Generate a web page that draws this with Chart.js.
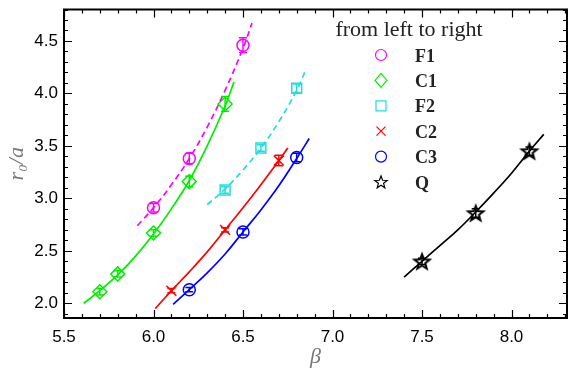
<!DOCTYPE html>
<html><head><meta charset="utf-8">
<script src="https://cdn.jsdelivr.net/npm/chart.js@4/dist/chart.umd.min.js"></script>
<style>html,body{margin:0;padding:0;background:#fff}</style>
</head><body>
<canvas id="c" width="581" height="370"></canvas>
<script>
// ---- data ----
const seriesNames = ['F1', 'C1', 'F2', 'C2', 'C3', 'Q'];
const legendTitle = 'from left to right';

const betaF1 = [6.0, 6.2, 6.5];
const r0F1   = [2.91, 3.38, 4.46];
const errF1  = [0.04, 0.05, 0.07];
const betaC1 = [5.7, 5.8, 6.0, 6.2, 6.4];
const r0C1   = [2.11, 2.28, 2.67, 3.16, 3.90];
const errC1  = [0.03, 0.03, 0.03, 0.05, 0.07];
const betaF2 = [6.4, 6.6, 6.8];
const r0F2   = [3.08, 3.48, 4.05];
const errF2  = [0.03, 0.03, 0.04];
const betaC2 = [6.1, 6.4, 6.7];
const r0C2   = [2.12, 2.70, 3.36];
const errC2  = [0.02, 0.02, 0.05];
const betaC3 = [6.2, 6.5, 6.8];
const r0C3   = [2.13, 2.68, 3.39];
const errC3  = [0.02, 0.03, 0.04];
const betaQ  = [7.5, 7.8, 8.1];
const r0Q    = [2.40, 2.86, 3.45];
const errQ   = [0.03, 0.04, 0.04];

// fit curves
const fitBetaF1 = [5.91, 6.0, 6.1, 6.2, 6.3, 6.4, 6.5, 6.55];
const fitR0F1   = [2.74, 2.91, 3.13, 3.38, 3.68, 4.03, 4.43, 4.67];
const fitBetaC1 = [5.61, 5.7, 5.8, 5.9, 6.0, 6.1, 6.2, 6.3, 6.4, 6.45];
const fitR0C1   = [2.00, 2.12, 2.27, 2.45, 2.66, 2.90, 3.17, 3.50, 3.88, 4.11];
const fitBetaF2 = [6.30, 6.4, 6.5, 6.6, 6.7, 6.8, 6.85];
const fitR0F2   = [2.94, 3.09, 3.27, 3.48, 3.73, 4.03, 4.22];
const fitBetaC2 = [6.01, 6.1, 6.2, 6.3, 6.4, 6.5, 6.6, 6.7, 6.75];
const fitR0C2   = [1.95, 2.12, 2.30, 2.49, 2.70, 2.91, 3.13, 3.36, 3.48];
const fitBetaC3 = [6.11, 6.2, 6.3, 6.4, 6.5, 6.6, 6.7, 6.8, 6.87];
const fitR0C3   = [1.99, 2.13, 2.29, 2.47, 2.68, 2.89, 3.12, 3.38, 3.57];
const fitBetaQ  = [7.40, 7.5, 7.6, 7.7, 7.8, 7.9, 8.0, 8.1, 8.18];
const fitR0Q    = [2.25, 2.40, 2.55, 2.70, 2.87, 3.05, 3.24, 3.45, 3.61];

const xTicks = [5.5, 6.0, 6.5, 7.0, 7.5, 8.0];
const yTicks = [2.0, 2.5, 3.0, 3.5, 4.0, 4.5];

// ---- styles ----
const colF1 = '#ff00ff', colC1 = '#00ee00', colF2 = '#22dddd', colC2 = '#ff0000', colC3 = '#0000ff', colQ = '#000000';

function starCanvas(rOut, lw) {
  const s = Math.ceil(rOut * 2 + lw * 2 + 2);
  const cv = document.createElement('canvas');
  cv.width = s; cv.height = s;
  const c = cv.getContext('2d');
  drawStar(c, s / 2, s / 2 + rOut * 0.1, rOut, lw);
  return cv;
}
function drawStar(c, cx, cy, rOut, lw) {
  const rIn = rOut * 0.42;
  c.beginPath();
  for (let i = 0; i < 10; i++) {
    const r = i % 2 ? rIn : rOut;
    const a = -Math.PI / 2 + i * Math.PI / 5;
    const px = cx + r * Math.cos(a), py = cy + r * Math.sin(a);
    if (i === 0) c.moveTo(px, py); else c.lineTo(px, py);
  }
  c.closePath();
  c.strokeStyle = '#000'; c.lineWidth = lw; c.stroke();
}
const starImg = starCanvas(8, 2);

const pts = (xs, ys) => xs.map((x, i) => ({x: x, y: ys[i]}));

function fitDs(xs, ys, col, dashed) {
  return {data: pts(xs, ys), showLine: true, borderColor: col, borderWidth: 1.7,
    borderDash: dashed ? [6, 4] : [], pointRadius: 0, tension: 0.4, fill: false};
}
function markDs(name, xs, ys, err, col, style, radius) {
  return {label: name, data: pts(xs, ys), err: err, showLine: false, borderColor: col,
    backgroundColor: 'rgba(0,0,0,0)', pointStyle: style, pointRadius: radius, pointBorderWidth: 1.5,
    pointHoverRadius: radius};
}

const datasets = [
  fitDs(fitBetaF1, fitR0F1, colF1, true),
  fitDs(fitBetaC1, fitR0C1, colC1, false),
  fitDs(fitBetaF2, fitR0F2, colF2, true),
  fitDs(fitBetaC2, fitR0C2, colC2, false),
  fitDs(fitBetaC3, fitR0C3, colC3, false),
  fitDs(fitBetaQ, fitR0Q, colQ, false),
  markDs(seriesNames[0], betaF1, r0F1, errF1, colF1, 'circle', 6),
  markDs(seriesNames[1], betaC1, r0C1, errC1, colC1, 'rectRot', 7),
  markDs(seriesNames[2], betaF2, r0F2, errF2, colF2, 'rect', 7),
  markDs(seriesNames[3], betaC2, r0C2, errC2, colC2, 'crossRot', 7),
  markDs(seriesNames[4], betaC3, r0C3, errC3, colC3, 'circle', 6),
  markDs(seriesNames[5], betaQ, r0Q, errQ, colQ, starImg, 8)
];

const legendItems = [
  {name: seriesNames[0], col: colF1, kind: 'circle'},
  {name: seriesNames[1], col: colC1, kind: 'diamond'},
  {name: seriesNames[2], col: colF2, kind: 'square'},
  {name: seriesNames[3], col: colC2, kind: 'x'},
  {name: seriesNames[4], col: colC3, kind: 'circle'},
  {name: seriesNames[5], col: colQ, kind: 'star'}
];

const framePlugin = {
  id: 'frame',
  afterDatasetsDraw(chart) {
    const ctx = chart.ctx, xs = chart.scales.x, ys = chart.scales.y;
    chart.data.datasets.forEach(ds => {
      if (!ds.err) return;
      ctx.save();
      ctx.strokeStyle = ds.borderColor; ctx.lineWidth = 1.5;
      ds.data.forEach((p, j) => {
        const x = xs.getPixelForValue(p.x);
        const y1 = ys.getPixelForValue(p.y - ds.err[j]);
        const y2 = ys.getPixelForValue(p.y + ds.err[j]);
        ctx.beginPath();
        ctx.moveTo(x, y1); ctx.lineTo(x, y2);
        ctx.moveTo(x - 4, y1); ctx.lineTo(x + 4, y1);
        ctx.moveTo(x - 4, y2); ctx.lineTo(x + 4, y2);
        ctx.stroke();
      });
      ctx.restore();
    });
  },
  afterDraw(chart) {
    const ctx = chart.ctx, xs = chart.scales.x, ys = chart.scales.y, a = chart.chartArea;
    ctx.save();
    ctx.strokeStyle = '#000';
    // ticks
    ctx.lineWidth = 1.2;
    ctx.beginPath();
    for (let k = Math.round(xs.min * 10); k <= Math.round(xs.max * 10); k++) {
      const v = k / 10;
      const x = Math.round(xs.getPixelForValue(v)) + 0.5;
      const major = k % 5 === 0;
      const L = major ? 8 : 4;
      ctx.moveTo(x, a.bottom); ctx.lineTo(x, a.bottom - L);
      ctx.moveTo(x, a.top); ctx.lineTo(x, a.top + L);
    }
    for (let k = Math.ceil(ys.min * 10 - 1e-6); k <= Math.floor(ys.max * 10 + 1e-6); k++) {
      const v = k / 10;
      const y = Math.round(ys.getPixelForValue(v)) + 0.5;
      const major = k % 5 === 0;
      const L = major ? 8 : 4;
      ctx.moveTo(a.left, y); ctx.lineTo(a.left + L, y);
      ctx.moveTo(a.right, y); ctx.lineTo(a.right - L, y);
    }
    ctx.stroke();
    // frame
    ctx.lineWidth = 2;
    ctx.strokeRect(a.left, a.top, a.right - a.left, a.bottom - a.top);

    // legend
    ctx.fillStyle = '#222';
    ctx.font = '22px "Liberation Serif"';
    ctx.textAlign = 'center';
    ctx.textBaseline = 'alphabetic';
    ctx.fillText(legendTitle, 409, 36);
    const mx = 381, tx = 415;
    legendItems.forEach((it, i) => {
      const cy = 55 + i * 25.4;
      ctx.strokeStyle = it.col; ctx.lineWidth = 1.2;
      ctx.beginPath();
      if (it.kind === 'circle') { ctx.arc(mx, cy, 5.5, 0, Math.PI * 2); ctx.stroke(); }
      else if (it.kind === 'diamond') { ctx.moveTo(mx, cy - 7); ctx.lineTo(mx + 6, cy); ctx.lineTo(mx, cy + 7); ctx.lineTo(mx - 6, cy); ctx.closePath(); ctx.stroke(); }
      else if (it.kind === 'square') { ctx.rect(mx - 5, cy - 5, 10, 10); ctx.stroke(); }
      else if (it.kind === 'x') { ctx.moveTo(mx - 4.5, cy - 4.5); ctx.lineTo(mx + 4.5, cy + 4.5); ctx.moveTo(mx + 4.5, cy - 4.5); ctx.lineTo(mx - 4.5, cy + 4.5); ctx.stroke(); }
      else if (it.kind === 'star') { drawStar(ctx, mx, cy + 0.5, 6.5, 1.2); }
      ctx.fillStyle = '#222';
      ctx.font = 'bold 18px "Liberation Serif"';
      ctx.textAlign = 'left';
      ctx.fillText(it.name, tx, cy + 6.5);
    });
    ctx.restore();
  }
};

function noPad(s) { s.paddingTop = 0; s.paddingBottom = 0; s.paddingLeft = 0; s.paddingRight = 0; }

new Chart(document.getElementById('c'), {
  type: 'scatter',
  data: {datasets: datasets},
  plugins: [framePlugin],
  options: {
    responsive: false, animation: false, devicePixelRatio: 1,
    layout: {padding: {left: 0, right: 14, top: 6, bottom: 0}},
    plugins: {legend: {display: false}, tooltip: {enabled: false}},
    scales: {
      x: {
        type: 'linear', min: 5.5, max: 8.31,
        afterBuildTicks: s => { s.ticks = xTicks.map(v => ({value: v})); },
        afterFit: s => { s.height = 52; noPad(s); },
        grid: {display: false, drawTicks: false}, border: {display: false},
        ticks: {color: '#000', font: {family: '"Liberation Sans", Arial', size: 17}, padding: 9,
          callback: v => Number(v).toFixed(1), maxRotation: 0},
        title: {display: true, text: 'β', color: '#777', font: {family: '"Liberation Serif"', size: 22, style: 'italic'}, padding: {top: 0, bottom: 0}}
      },
      y: {
        type: 'linear', min: 1.86, max: 4.8,
        afterBuildTicks: s => { s.ticks = yTicks.map(v => ({value: v})); },
        afterFit: s => { s.width = 64; noPad(s); },
        grid: {display: false, drawTicks: false}, border: {display: false},
        ticks: {color: '#000', font: {family: '"Liberation Sans", Arial', size: 17}, padding: 6,
          callback: v => Number(v).toFixed(1)},
        title: {display: true, text: 'r₀/a', color: '#777', font: {family: '"Liberation Serif"', size: 22, style: 'italic'}, padding: {top: 4, bottom: 0}}
      }
    }
  }
});
</script>
</body></html>
